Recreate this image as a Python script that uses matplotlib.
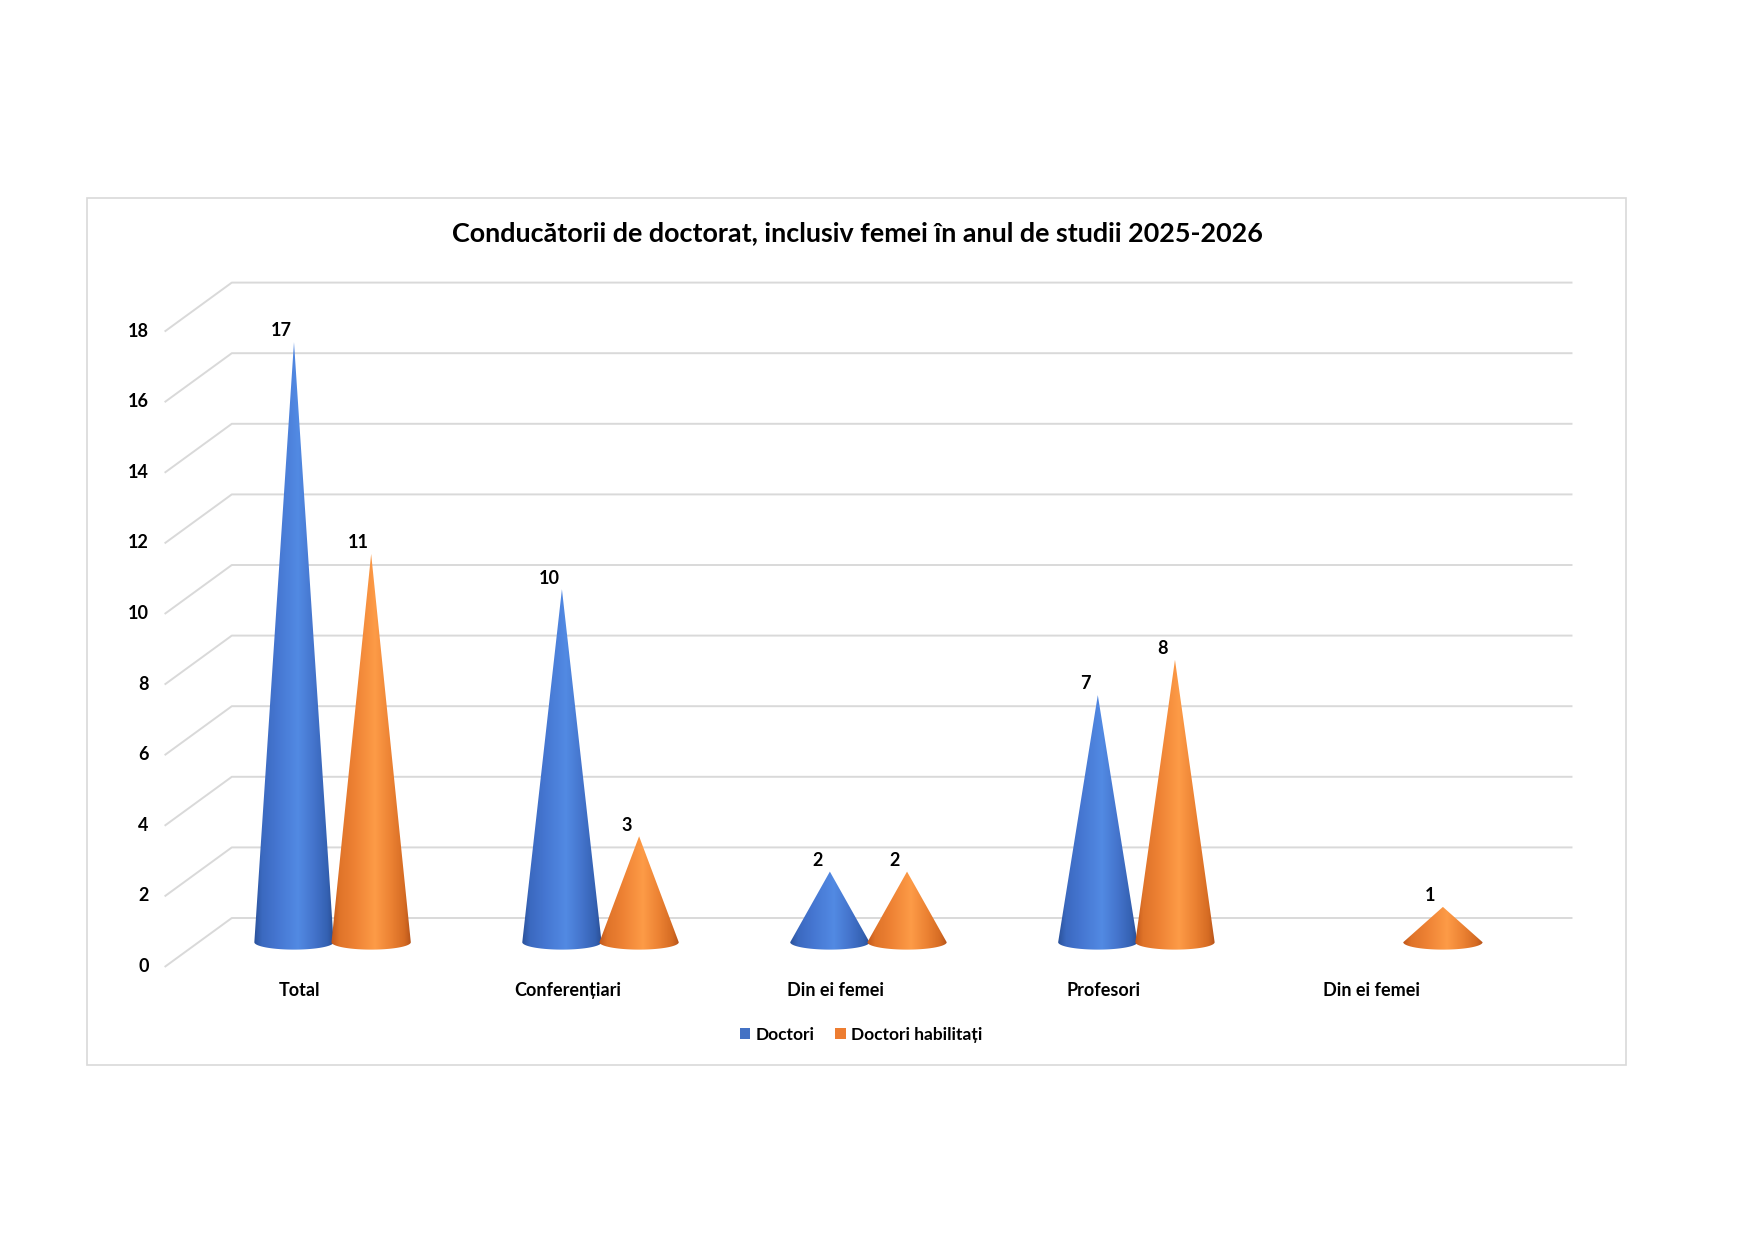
import numpy as np
import matplotlib.pyplot as plt
from matplotlib.patches import Polygon, Rectangle, Patch
from matplotlib.colors import LinearSegmentedColormap
from matplotlib.transforms import ScaledTranslation, IdentityTransform, offset_copy

# data
categories = ['Total', 'Conferențiari', 'Din ei femei', 'Profesori', 'Din ei femei']
doctori = [17, 10, 2, 7, 0]
habilitati = [11, 3, 2, 8, 1]
series_names = ['Doctori', 'Doctori habilitați']
yticks = list(range(0, 20, 2))
title = 'Conducătorii de doctorat, inclusiv femei în anul de studii 2025-2026'

plt.rcParams['font.family'] = ['Lato', 'DejaVu Sans']

DPI = 100
W, H = 1755, 1241
fig = plt.figure(figsize=(W / DPI, H / DPI), dpi=DPI)
fig.patch.set_facecolor('white')

# mid-depth plane of the 3D box, in pixels
x_left, x_right = 198.6, 1538.3
y_zero = 298.8
px_unit = 35.3
ylo, yhi = -3, 20
ax = fig.add_axes([x_left / W, (y_zero + ylo * px_unit) / H,
                   (x_right - x_left) / W, (yhi - ylo) * px_unit / H])
ax.set_xlim(0, len(categories))
ax.set_ylim(ylo, yhi)
ax.axis('off')

dx, dy = 33.2 / DPI, 24.2 / DPI
back = ax.transData + ScaledTranslation(dx, dy, fig.dpi_scale_trans)
front = ax.transData + ScaledTranslation(-dx, -dy, fig.dpi_scale_trans)

grid_col = '#d9d9d9'
for v in yticks:
    p0 = front.transform((0, v))
    p1 = back.transform((0, v))
    p2 = back.transform((len(categories), v))
    ax.plot([p0[0], p1[0], p2[0]], [p0[1], p1[1], p2[1]], color=grid_col, lw=1.4,
            transform=IdentityTransform(), clip_on=False, zorder=1)
    ax.text(0, v, str(v), transform=offset_copy(front, fig=fig, x=-12, units='points'),
            ha='right', va='center', fontsize=13, fontweight='bold')

for i, cat in enumerate(categories):
    ax.text(i + 0.5, 0, cat, transform=offset_copy(front, fig=fig, y=-17, units='points'),
            ha='center', va='center', fontsize=13, fontweight='bold')

blue_cmap = LinearSegmentedColormap.from_list('b', [
    (0.0, '#2a519a'), (0.1, '#3b69c0'), (0.3, '#4677d2'), (0.55, '#528ae3'),
    (0.75, '#4474cc'), (0.92, '#3461b2'), (1.0, '#2a4e92')])
orange_cmap = LinearSegmentedColormap.from_list('o', [
    (0.0, '#bf561a'), (0.1, '#df7329'), (0.3, '#ee8234'), (0.55, '#fd9b47'),
    (0.75, '#ec8233'), (0.92, '#d56b23'), (1.0, '#b6541b')])

half_w = 0.148
shift = 0.144
ell = 0.21


def cone(cx, h, cmap):
    t = np.linspace(np.pi, 2 * np.pi, 80)
    base = np.column_stack([cx + half_w * np.cos(t), ell * np.sin(t)])
    verts = np.vstack([[cx, h], base])
    poly = Polygon(verts, closed=True, facecolor='none', edgecolor='none')
    ax.add_patch(poly)
    grad = np.linspace(0, 1, 256).reshape(1, -1)
    im = ax.imshow(grad, cmap=cmap, extent=[cx - half_w, cx + half_w, -ell, h],
                   aspect='auto', origin='lower', interpolation='bicubic', zorder=3)
    im.set_clip_path(poly)
    ax.annotate(str(h), (cx, h), xytext=(-9, 8), textcoords='offset points',
                ha='center', va='center', fontsize=13, fontweight='bold', zorder=5)


for i in range(len(categories)):
    if doctori[i] > 0:
        cone(i + 0.5 - shift, doctori[i], blue_cmap)
    if habilitati[i] > 0:
        cone(i + 0.5 + shift, habilitati[i], orange_cmap)

ax.set_xlim(0, len(categories))
ax.set_ylim(ylo, yhi)

fig.text(857 / W, 1 - 233 / H, title, ha='center', va='center',
         fontsize=19.4, fontweight='bold')

handles = [Patch(facecolor='#4472c4'), Patch(facecolor='#ed7d31')]
fig.legend(handles, series_names, loc='center', bbox_to_anchor=(861 / W, 1 - 1035 / H),
           ncol=2, frameon=False, handlelength=0.6, handleheight=0.6,
           handletextpad=0.3, columnspacing=1.2,
           prop={'size': 12.5, 'weight': 'bold'})

fig.add_artist(Rectangle((86.6 / W, 1 - 1065.3 / H), 1539 / W, 867.3 / H,
                         transform=fig.transFigure, fill=False,
                         edgecolor=grid_col, lw=1.2))

fig.savefig('out.png', dpi=DPI, facecolor='white')
